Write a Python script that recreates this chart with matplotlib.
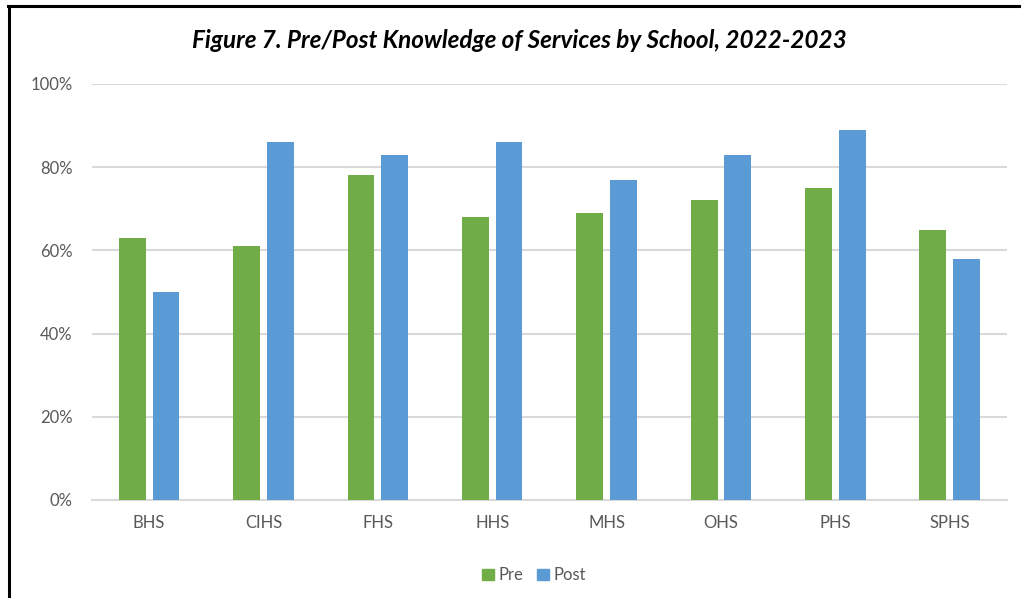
import matplotlib.pyplot as plt
import numpy as np
from matplotlib.patches import Patch
from matplotlib.ticker import PercentFormatter

schools = ["BHS", "CIHS", "FHS", "HHS", "MHS", "OHS", "PHS", "SPHS"]
pre = [63, 61, 78, 68, 69, 72, 75, 65]
post = [50, 86, 83, 86, 77, 83, 89, 58]

plt.rcParams["font.family"] = ["Lato", "DejaVu Sans"]

fig = plt.figure(figsize=(10.21, 5.98), dpi=100)
ax = fig.add_axes([0.0901, 0.1639, 0.896, 0.6957])

x = np.arange(len(schools))
w = 0.235
ax.bar(x - 0.147, pre, w, color="#70AD47", label="Pre", zorder=3)
ax.bar(x + 0.147, post, w, color="#5B9BD5", label="Post", zorder=3)

ax.set_xlim(-0.5, len(schools) - 0.5)
ax.set_ylim(0, 100)
ax.set_yticks(range(0, 101, 20))
ax.yaxis.set_major_formatter(PercentFormatter(decimals=0))
ax.set_xticks(x)
ax.set_xticklabels(schools)
ax.grid(axis="y", color="#D9D9D9", lw=1.5, zorder=0)
for s in ["top", "right", "left"]:
    ax.spines[s].set_visible(False)
ax.spines["bottom"].set_color("#D9D9D9")
ax.spines["bottom"].set_linewidth(1.5)
ax.tick_params(length=0, colors="#595959", labelsize=12)
ax.tick_params(axis="x", pad=11)
ax.tick_params(axis="y", pad=14)

fig.text(0.509, 0.933, "Figure 7. Pre/Post Knowledge of Services by School, 2022-2023",
         ha="center", va="center", fontsize=17.5, fontweight="bold", fontstyle="italic",
         color="#000000")

handles = [Patch(color="#70AD47", label="Pre"), Patch(color="#5B9BD5", label="Post")]
fig.legend(handles=handles, loc="center", bbox_to_anchor=(0.523, 0.038), ncol=2,
           frameon=False, fontsize=12, handlelength=0.7, handleheight=0.7,
           handletextpad=0.3, columnspacing=0.8, labelcolor="#595959")

# black frame on the left and top edges, like the screenshot
fig.add_artist(plt.Line2D([0.0088, 0.0088], [0, 0.99], color="black", lw=2.2,
                          transform=fig.transFigure))
fig.add_artist(plt.Line2D([0.0078, 1.0], [0.99, 0.99], color="black", lw=2.2,
                          transform=fig.transFigure))

fig.savefig("out.png", dpi=100)
